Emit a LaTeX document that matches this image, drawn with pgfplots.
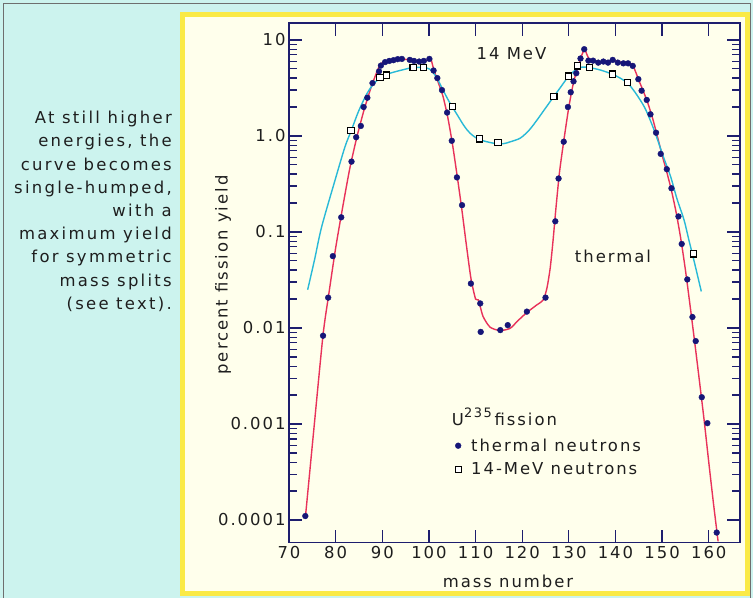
\documentclass[border=0pt]{standalone}
\usepackage{fontspec}
\setmainfont{DejaVu Sans}[LetterSpace=12]
\usepackage{pgfplots}
\pgfplotsset{compat=1.18}
\definecolor{bgcyan}{RGB}{204,243,238}
\definecolor{cream}{RGB}{255,255,236}
\definecolor{ybord}{RGB}{250,234,70}
\definecolor{navy}{RGB}{30,30,110}
\definecolor{dotblue}{RGB}{22,22,120}
\definecolor{redc}{RGB}{232,50,90}
\definecolor{cyanc}{RGB}{40,185,215}
\definecolor{graybord}{RGB}{110,110,110}
\definecolor{txt}{RGB}{30,30,30}
\newcommand{\fs}{\fontsize{16.5}{20}\selectfont}
\begin{document}
\begin{tikzpicture}[x=1bp,y=1bp]
\useasboundingbox (0,0) rectangle (753,598);
\fill[bgcyan] (0,0) rectangle (753,598);
\draw[graybord, line width=1bp] (3,-3) rectangle (750.5,594.7);
\fill[ybord] (180,2) rectangle (750,586);
\fill[cream] (185,6.5) rectangle (745,581);
\node[anchor=north east, align=right, inner sep=0pt, text=txt,
      font=\fontsize{16.5}{23.3}\selectfont\addfontfeatures{LetterSpace=14}] at (172,487)
 {At still higher\\energies, the\\curve becomes\\single-humped,\\with a\\maximum yield\\for symmetric\\mass splits\hspace*{5bp}\\(see text).};
\begin{axis}[
  at={(289bp,55.5bp)}, anchor=south west,
  scale only axis, width=451bp, height=519.5bp,
  xmin=70, xmax=166.7, ymode=log, ymin=5.83e-5, ymax=15,
  axis line style={navy, line width=1.3bp},
  tick style={navy, line width=1.3bp},
  tick align=inside,
  major tick length=13bp, minor tick length=8bp,
  xtick={70,80,90,100,110,120,130,140,150,160},
  xticklabels={70,80,90,100,110,120,130,140,150,160},
  ytick={0.0001,0.001,0.01,0.1,1,10},
  yticklabels={0.0001,0.001,0.01,0.1,1.0,10},
  /pgf/number format/assume math mode=true,
  ticklabel style={font=\fs, text=txt},
  label style={font=\fs, text=txt},
  xlabel={mass number},
  ylabel={percent fission yield},
  xlabel style={at={(axis description cs:0.4856,-0.0755)}, anchor=center},
  ylabel style={at={(axis description cs:-0.146,0.515)}, anchor=center},
  legend style={at={(axis description cs:0.3636,0.204)}, anchor=north west,
    draw=none, fill=none, font=\fs, text=txt,
    row sep=6bp, inner sep=0pt},
  legend cell align=left,
  legend image code/.code={\path[draw=none] (0bp,0bp) (16bp,0bp);\draw[mark repeat=2,mark phase=2,#1] plot coordinates {(0bp,0bp)(5bp,0bp)(16bp,0bp)};},
]
% thermal curve
\addplot[redc, line width=1.4bp, smooth, tension=0.4, forget plot] coordinates {
(73.5,1.05e-4)(75.4,0.00096)(77.3,0.0085)(78.5,0.022)(80,0.068)(81.5,0.18)
(83,0.45)(84.5,0.95)(86,1.8)(87.5,3.1)(88.8,4.6)(89.6,5.6)(90.5,5.9)(92,6.1)
(94,6.3)(96,6.2)(98,6.0)(99.5,6.1)(100.4,6.3)(101,5.0)(102,3.6)(103,2.6)(104,1.6)
(105,0.85)(106,0.4)(107,0.18)(108,0.075)(109,0.033)(110,0.02)(110.6,0.0196)(111.6,0.0132)
(113.1,0.0102)(115.2,0.0094)(117.4,0.0099)(119,0.0118)(121,0.0145)(123,0.0172)(124.5,0.0196)
(125.3,0.026)(126,0.042)(126.6,0.08)(127.2,0.17)(128,0.42)(129,0.95)(130,2.0)(131,3.6)
(132,5.3)(132.8,7)(133.4,7.9)(134.2,6.5)(135,6.1)(137,5.9)(139.4,6.1)(141.5,5.8)
(143.5,5.6)(144.2,4.8)(145,3.8)(146,2.9)(147,2.15)(148,1.5)(149,0.98)(150,0.63)
(151,0.42)(152,0.27)(153,0.16)(154,0.085)(155,0.04)(156,0.017)(157,0.007)(158,0.0028)
(159,0.0011)(160,0.0004)(161,0.00015)(162,6e-5)
};
% 14 MeV curve
\addplot[cyanc, line width=1.4bp, smooth, tension=0.5, forget plot] coordinates {
(74.0,0.025)(75.5,0.052)(77.0,0.113)(79.9,0.35)(82.0,0.77)(83.3,1.12)(84.9,1.8)
(86.7,2.75)(88.4,3.6)(90.6,4.3)(92.7,4.65)(94.9,4.95)(96.6,5.15)(98.8,5.15)
(100.2,4.95)(101.6,4.1)(103.1,2.95)(104.5,2.2)(106,1.68)(107.5,1.28)(108.8,1.07)
(110.5,0.93)(112.4,0.87)(114.5,0.83)(116,0.83)(117.5,0.87)(119.6,0.95)(121.5,1.15)
(123.2,1.47)(125,1.95)(126.8,2.58)(128.3,3.25)(129.9,4.15)(131.4,4.85)(132.8,5.2)
(134.4,5.15)(136.8,4.85)(139.3,4.4)(141,4.0)(142.6,3.55)(144.3,2.8)(146.2,2.0)
(147.6,1.4)(148.8,0.98)(150.3,0.6)(151.8,0.38)(153.2,0.22)(154.7,0.133)(155.8,0.08)
(156.8,0.051)(157.6,0.035)(158.4,0.024)
};
% thermal data
\addplot[only marks, mark=*, mark size=2.9bp, mark options={fill=dotblue, draw=dotblue}] coordinates {
(73.5,1.1e-4)(77.3,0.0083)(78.4,0.0207)(79.4,0.056)(81.2,0.142)(83.4,0.54)(84.4,0.97)
(85.4,1.27)(86.0,2.0)(86.8,2.5)(87.9,3.55)(89.3,4.7)(89.7,5.4)(90.6,5.87)(91.5,6.04)
(92.4,6.15)(93.3,6.3)(94.2,6.34)(95.9,6.19)(96.8,6.04)(97.9,5.95)(98.9,6.04)(100.1,6.34)
(101.0,4.8)(101.8,4.0)(102.8,3.0)(103.9,1.75)(104.9,0.89)(106.0,0.37)(107.1,0.19)
(109.0,0.029)(111.0,0.018)(111.1,0.0091)(115.3,0.0095)(116.9,0.0107)(121.0,0.0148)
(125.0,0.0207)(127.1,0.129)(127.8,0.36)(128.9,0.87)(129.8,2.0)(130.4,2.85)(131.0,3.7)
(131.6,4.5)(132.5,6.4)(133.3,8.0)(134.2,6.08)(135.2,6.08)(136.3,5.8)(137.4,5.95)
(138.4,5.8)(139.4,6.19)(140.5,5.8)(141.7,5.7)(142.7,5.7)(143.7,5.36)(144.9,3.9)
(145.6,2.96)(146.7,2.37)(147.5,1.68)(148.7,1.08)(149.7,0.65)(151.0,0.45)(152.0,0.285)
(153.5,0.145)(154.2,0.075)(155.4,0.032)(156.5,0.013)(157.2,0.0073)(158.5,0.0019)
(159.7,0.00102)(161.7,7.4e-5)
};
\addlegendentry{thermal neutrons}
% 14 MeV data
\addplot[only marks, mark=square*, mark size=3.1bp, mark options={fill=white, draw=black, line width=1.1bp}] coordinates {
(83.3,1.13)(89.5,4.05)(90.9,4.3)(96.6,5.14)(98.8,5.14)(105.1,2.02)(110.8,0.93)
(114.8,0.85)(126.8,2.58)(130.0,4.2)(131.8,5.36)(134.4,5.14)(139.3,4.4)(142.6,3.59)
(156.7,0.059)
};
\addlegendentry{14-MeV neutrons}
\node[anchor=center, text=txt, font=\fs] at (axis cs:117.7,7.26) {14 MeV};
\node[anchor=center, text=txt, font=\fs] at (axis cs:139.45,0.0553) {thermal};
\node[anchor=west, inner sep=0pt, text=txt, font=\fs] at (axis cs:104.9,0.00119) {U\raisebox{0.45em}{\fontsize{13}{13}\selectfont 235}\,fission};
\end{axis}
\end{tikzpicture}
\end{document}
